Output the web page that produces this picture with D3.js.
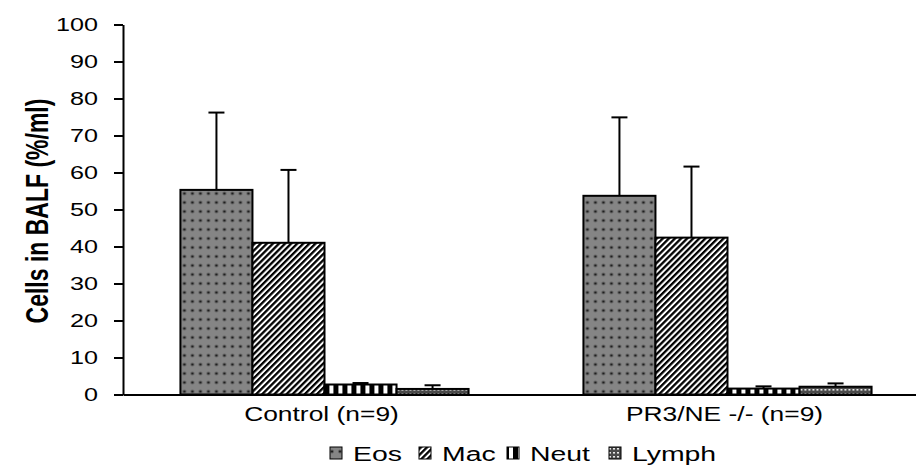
<!DOCTYPE html>
<html>
<head>
<meta charset="utf-8">
<script src="https://cdn.jsdelivr.net/npm/d3@7"></script>
<style>
  html, body { margin: 0; padding: 0; background: #fff; }
  svg { display: block; font-family: "Liberation Sans", Arial, sans-serif; }
</style>
</head>
<body>
<svg id="chart" width="916" height="466"></svg>
<script>
// Cell differential in BALF, mean with upper SD bar
const groups = ["Control (n=9)", "PR3/NE -/- (n=9)"];
const cellTypes = ["Eos", "Mac", "Neut", "Lymph"];
const controlMeans = [55.3, 41.0, 2.7, 1.5];
const controlErrors = [20.9, 19.7, 0.4, 1.0];
const knockoutMeans = [53.7, 42.4, 1.6, 2.1];
const knockoutErrors = [21.2, 19.2, 0.6, 0.9];
const yTicks = [0, 10, 20, 30, 40, 50, 60, 70, 80, 90, 100];

const means = [controlMeans, knockoutMeans];
const errors = [controlErrors, knockoutErrors];

const svg = d3.select("#chart");
const plot = { left: 123, right: 929, top: 24.5, bottom: 394.5 };
const FONT = "'Liberation Sans', Arial, sans-serif";

// ---- fill patterns ----
const defs = svg.append("defs");

const pEos = defs.append("pattern").attr("id", "pat-Eos")
  .attr("patternUnits", "userSpaceOnUse").attr("width", 8).attr("height", 9);
pEos.append("rect").attr("width", 8).attr("height", 9).attr("fill", "#858585");
pEos.append("circle").attr("cx", 4).attr("cy", 4.5).attr("r", 1.9).attr("fill", "#5e5e5e");
pEos.append("circle").attr("cx", 4).attr("cy", 4.5).attr("r", 1.1).attr("fill", "#1e1e1e");

const pMac = defs.append("pattern").attr("id", "pat-Mac")
  .attr("patternUnits", "userSpaceOnUse").attr("width", 4.3).attr("height", 4.3)
  .attr("patternTransform", "rotate(45)");
pMac.append("rect").attr("width", 4.3).attr("height", 4.3).attr("fill", "#fff");
pMac.append("rect").attr("width", 2.3).attr("height", 4.3).attr("fill", "#000");

const pNeut = defs.append("pattern").attr("id", "pat-Neut")
  .attr("patternUnits", "userSpaceOnUse").attr("width", 9).attr("height", 9);
pNeut.append("rect").attr("width", 9).attr("height", 9).attr("fill", "#fff");
pNeut.append("rect").attr("width", 5).attr("height", 9).attr("fill", "#000");

const pLymph = defs.append("pattern").attr("id", "pat-Lymph")
  .attr("patternUnits", "userSpaceOnUse").attr("width", 4).attr("height", 4);
pLymph.append("rect").attr("width", 4).attr("height", 4).attr("fill", "#4a4a4a");
pLymph.append("rect").attr("x", 1).attr("y", 1).attr("width", 2).attr("height", 1.6).attr("fill", "#e8e8e8");

// ---- scales ----
const y = d3.scaleLinear().domain([0, 100]).range([plot.bottom, plot.top]);
const x0 = d3.scaleBand().domain(groups).range([plot.left, plot.right])
  .paddingInner(0.285).paddingOuter(0.1425);
const x1 = d3.scaleBand().domain(cellTypes).range([0, x0.bandwidth()]);

// ---- bars ----
const gBars = svg.append("g");
groups.forEach((g, gi) => {
  const grp = gBars.append("g").attr("transform", `translate(${x0(g)},0)`);
  const rows = cellTypes.map((c, ci) => ({ c, v: means[gi][ci], e: errors[gi][ci] }));

  // error bars (upper only)
  const eb = grp.selectAll("g.err").data(rows).join("g").attr("class", "err");
  eb.append("line")
    .attr("x1", d => x1(d.c) + x1.bandwidth() / 2)
    .attr("x2", d => x1(d.c) + x1.bandwidth() / 2)
    .attr("y1", d => y(d.v)).attr("y2", d => y(d.v + d.e))
    .attr("stroke", "#000").attr("stroke-width", 2);
  eb.append("line")
    .attr("x1", d => x1(d.c) + x1.bandwidth() / 2 - 8)
    .attr("x2", d => x1(d.c) + x1.bandwidth() / 2 + 8)
    .attr("y1", d => y(d.v + d.e)).attr("y2", d => y(d.v + d.e))
    .attr("stroke", "#000").attr("stroke-width", 2);

  grp.selectAll("rect.bar").data(rows).join("rect").attr("class", "bar")
    .attr("x", d => x1(d.c))
    .attr("y", d => y(d.v))
    .attr("width", x1.bandwidth())
    .attr("height", d => y(0) - y(d.v))
    .attr("fill", d => `url(#pat-${d.c})`)
    .attr("stroke", "#000").attr("stroke-width", 2);
});

// ---- axes ----
const yAxis = svg.append("g").attr("transform", `translate(${plot.left},0)`)
  .call(d3.axisLeft(y).tickValues(yTicks).tickSize(9).tickPadding(16).tickSizeOuter(0));
yAxis.select(".domain").attr("stroke", "#000").attr("stroke-width", 2);
yAxis.selectAll(".tick line").attr("stroke", "#000").attr("stroke-width", 2);
yAxis.selectAll(".tick text")
  .attr("font-size", 18).attr("fill", "#000").attr("font-family", FONT)
  .each(function () {
    const t = d3.select(this);
    const xx = +t.attr("x");
    t.attr("x", null).attr("transform", `translate(${xx},0) scale(1.4,1)`);
  });

const xAxis = svg.append("g").attr("transform", `translate(0,${plot.bottom})`)
  .call(d3.axisBottom(x0).tickSize(0).tickSizeOuter(0).tickPadding(0));
xAxis.select(".domain").attr("stroke", "#000").attr("stroke-width", 2);
xAxis.selectAll(".tick text").attr("font-size", 20).attr("fill", "#000").attr("font-family", FONT)
  .attr("dy", null).attr("y", null)
  .attr("transform", "translate(-3,26) scale(1.32,1)");

// y title
svg.append("text")
  .attr("transform", "translate(48,211) scale(1.35,1) rotate(-90)")
  .attr("text-anchor", "middle")
  .attr("font-size", 23).attr("font-weight", "bold")
  .text("Cells in BALF (%/ml)");

// ---- legend ----
const legendText = [353, 442, 530, 632];
const legend = svg.append("g").attr("transform", "translate(0,447)");
cellTypes.forEach((c, i) => {
  legend.append("rect").attr("x", legendText[i] - 23).attr("y", 0)
    .attr("width", 12).attr("height", 12)
    .attr("fill", `url(#pat-${c})`).attr("stroke", "#000").attr("stroke-width", 1);
  legend.append("text")
    .attr("transform", `translate(${legendText[i]},13.5) scale(1.42,1)`)
    .attr("font-size", 20).text(c);
});
</script>
</body>
</html>
